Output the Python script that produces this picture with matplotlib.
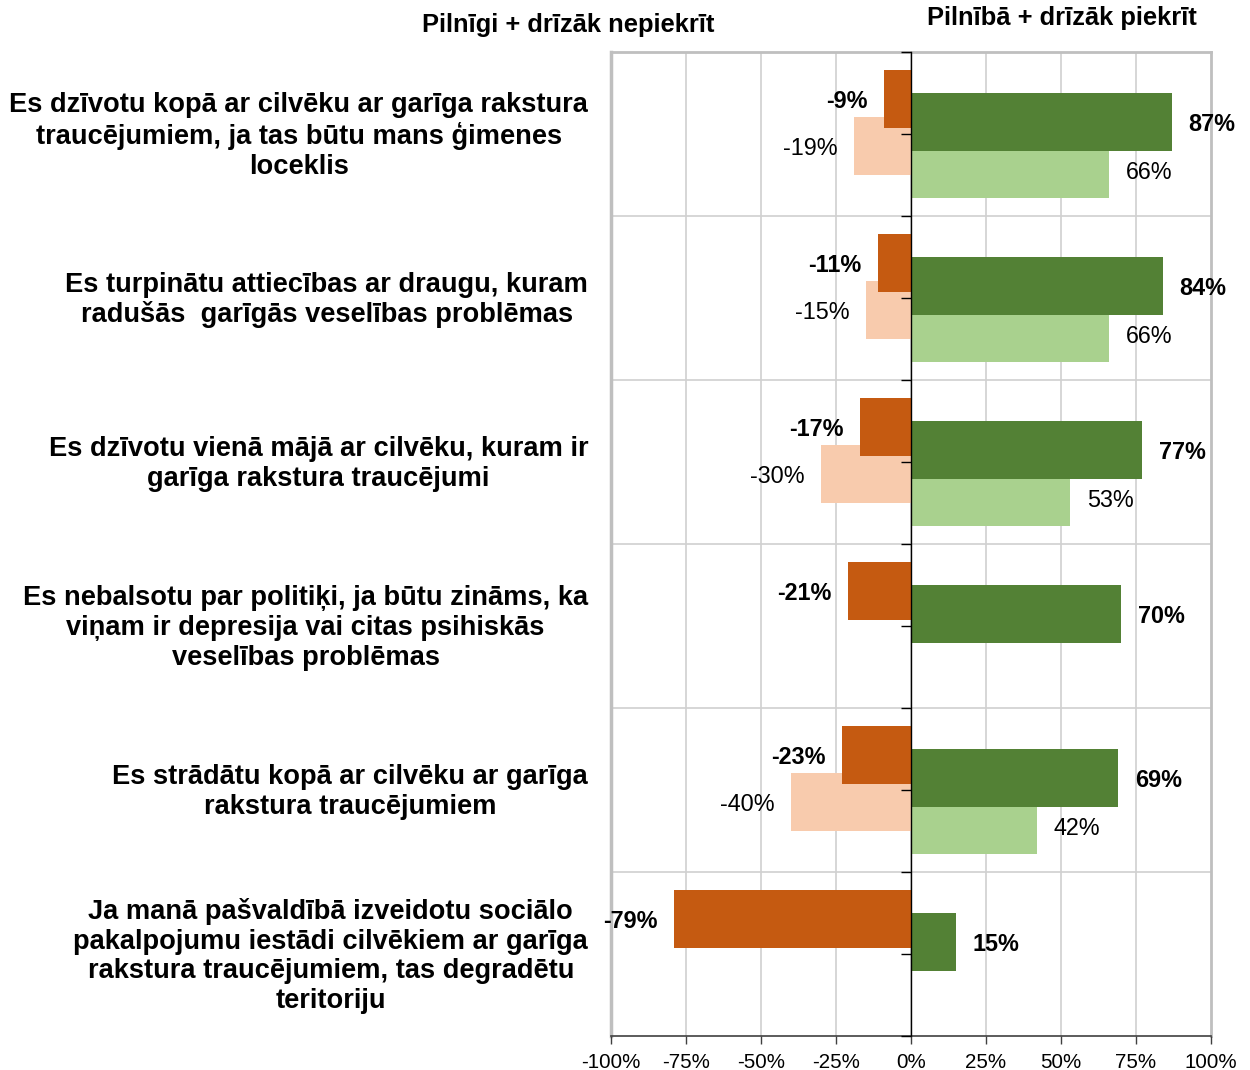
import numpy as np
import matplotlib.pyplot as plt

plt.rcParams['font.family'] = ['Liberation Sans', 'DejaVu Sans']

CATEGORIES = [
    "Es dzīvotu kopā ar cilvēku ar garīga rakstura\ntraucējumiem, ja tas būtu mans ģimenes\nloceklis",
    "Es turpinātu attiecības ar draugu, kuram\nradušās  garīgās veselības problēmas",
    "Es dzīvotu vienā mājā ar cilvēku, kuram ir\ngarīga rakstura traucējumi",
    "Es nebalsotu par politiķi, ja būtu zināms, ka\nviņam ir depresija vai citas psihiskās\nveselības problēmas",
    "Es strādātu kopā ar cilvēku ar garīga\nrakstura traucējumiem",
    "Ja manā pašvaldībā izveidotu sociālo\npakalpojumu iestādi cilvēkiem ar garīga\nrakstura traucējumiem, tas degradētu\nteritoriju",
]
DISAGREE_MAIN = [-9, -11, -17, -21, -23, -79]
DISAGREE_PREV = [-19, -15, -30, None, -40, None]
AGREE_MAIN = [87, 84, 77, 70, 69, 15]
AGREE_PREV = [66, 66, 53, None, 42, None]
X_TICKS = [-100, -75, -50, -25, 0, 25, 50, 75, 100]

DARK_ORANGE = '#C55A11'
LIGHT_ORANGE = '#F8CBAD'
DARK_GREEN = '#538135'
LIGHT_GREEN = '#A9D18E'
GRID_COLOUR = '#D0D0D0'
FRAME_COLOUR = '#BFBFBF'

BAR_HEIGHT = 0.355
OFFSETS = [-0.215, -0.072, 0.072, 0.215]
VALUE_SIZE = 16.8
TICK_SIZE = 14.8
CATEGORY_SIZE = 19.6
HEADER_SIZE = 18.4
LABEL_GAP = 12

fig = plt.figure(figsize=(12.5, 10.7), dpi=100)
ax = fig.add_axes([611 / 1250, 1 - 1036 / 1070, 600 / 1250, 984 / 1070])

y = np.arange(len(CATEGORIES))


def draw_series(values, offset, colour, bold):
    for i, v in enumerate(values):
        if v is None:
            continue
        ax.barh(y[i] + offset, v, height=BAR_HEIGHT, color=colour, zorder=3 if bold else 2)
        side = 1 if v > 0 else -1
        ax.annotate(f"{v}%", (v, y[i] + offset), xytext=(side * LABEL_GAP, -2),
                    textcoords='offset points', va='center',
                    ha='left' if side > 0 else 'right', fontsize=VALUE_SIZE,
                    fontweight='bold' if bold else 'normal', zorder=6)


# grid drawn by hand so the axis ticks can sit above the bars
for t in X_TICKS[1:-1]:
    ax.axvline(t, color=GRID_COLOUR, lw=1.2, zorder=0)
for b in np.arange(0.5, len(CATEGORIES) - 1, 1.0):
    ax.axhline(b, color=GRID_COLOUR, lw=1.2, zorder=0)

draw_series(DISAGREE_PREV, OFFSETS[2], LIGHT_ORANGE, False)
draw_series(AGREE_PREV, OFFSETS[3], LIGHT_GREEN, False)
draw_series(DISAGREE_MAIN, OFFSETS[0], DARK_ORANGE, True)
draw_series(AGREE_MAIN, OFFSETS[1], DARK_GREEN, True)

ax.set_xlim(-100, 100)
ax.set_ylim(len(CATEGORIES) - 0.5, -0.5)
ax.set_xticks(X_TICKS)
ax.set_xticklabels([f"{t}%" for t in X_TICKS], fontsize=TICK_SIZE)

# band boundaries and centres as ticks on the zero line
ax.set_yticks(np.arange(-0.5, len(CATEGORIES), 0.5))
ax.set_yticklabels([])
ax.tick_params(axis='y', length=7, width=1, color='black', direction='out')
ax.tick_params(axis='x', length=6, width=1, color='#404040', pad=6)
ax.xaxis.set_zorder(5)
ax.yaxis.set_zorder(5)

ax.spines['left'].set_position(('data', 0))
ax.spines['left'].set_color('black')
ax.spines['left'].set_linewidth(1)
ax.spines['left'].set_zorder(5)
ax.spines['bottom'].set_color('#404040')
ax.spines['bottom'].set_linewidth(1.2)
for s in ['top', 'right']:
    ax.spines[s].set_color(FRAME_COLOUR)
    ax.spines[s].set_linewidth(2)
ax.axvline(-100, color=FRAME_COLOUR, lw=2.5, clip_on=False, zorder=1)

for i, label in enumerate(CATEGORIES):
    ax.annotate(label, (-0.038, y[i]), xycoords=ax.get_yaxis_transform(),
                xytext=(0, -1.5), textcoords='offset points',
                ha='right', va='center', multialignment='center',
                fontsize=CATEGORY_SIZE, fontweight='bold', linespacing=1.18)

fig.text(568 / 1250, 1 - 25 / 1070, "Pilnīgi + drīzāk nepiekrīt", ha='center', va='center',
         fontsize=HEADER_SIZE, fontweight='bold')
fig.text(1062 / 1250, 1 - 18 / 1070, "Pilnībā + drīzāk piekrīt", ha='center', va='center',
         fontsize=HEADER_SIZE, fontweight='bold')

fig.savefig('out.png', dpi=100, facecolor='white')
